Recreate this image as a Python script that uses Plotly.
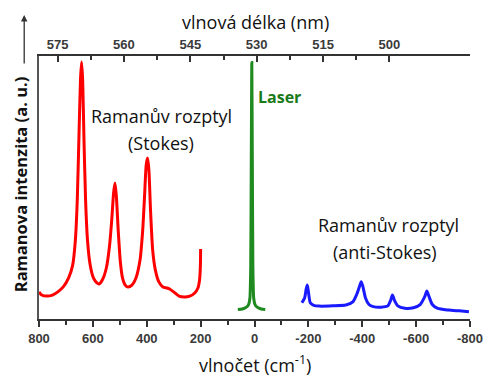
import plotly.graph_objects as go

# ---- data ----
stokes_wn = [800, 790, 770, 750, 730, 710, 690, 675, 665, 658, 652, 646, 642, 638, 633, 627, 620, 610, 598, 585,
             577, 565, 550, 538, 530, 523, 518, 513, 506, 498, 490, 480, 470, 455, 440, 425, 415, 408, 402, 397,
             392, 386, 378, 368, 355, 340, 325, 315, 300, 280, 260, 240, 222, 210, 204, 201, 200]
stokes_int = [10.3, 9.1, 8.7, 9.1, 10.3, 12.2, 15.6, 20.5, 30, 45, 68, 91, 97.7, 91, 68, 45, 30, 20.5, 15.6, 13.7,
              13.3, 14.8, 19.4, 28, 37.6, 48, 51.7, 47, 33.8, 21.7, 15.6, 12.9, 12.2, 12.9, 15.6, 22.4, 33.8, 47, 58.6, 61.2,
              56.7, 41.4, 26.2, 18.6, 14.1, 12.2, 11.8, 11.4, 10.3, 8.7, 8.4, 8.7, 9.9, 11.8, 14.8, 20, 26.6]

laser_wn = [62, 45, 30, 22, 17, 14, 12, 10, 8, 6, 3, -2, -10, -25, -40]
laser_int = [3.6, 3.8, 4.5, 5.5, 8, 20, 60, 97.5, 60, 20, 8, 5.5, 4.5, 3.8, 3.6]

anti_wn = [-176, -186, -192, -196, -200, -207, -220, -240, -290, -339, -365, -380, -390, -396, -402, -412, -425, -441,
           -470, -495, -505, -512, -520, -532, -558, -590, -615, -632, -640, -648, -660, -680, -720, -760, -796]
anti_int = [6.2, 8.0, 11.5, 12.9, 10.5, 6.2, 5.2, 4.9, 5.0, 5.3, 6.5, 9.5, 12.5, 14.2, 12.5, 8.0, 5.5, 4.7,
            4.5, 5.0, 7.0, 9.1, 7.0, 5.0, 4.1, 4.3, 5.5, 8.5, 10.6, 8.5, 5.5, 4.0, 3.4, 3.1, 2.8]

bottom_ticks = [800, 600, 400, 200, 0, -200, -400, -600, -800]
bottom_labels = ["800", "600", "400", "200", "0", "-200", "-400", "-600", "-800"]
top_ticks = [575, 560, 545, 530, 515, 500]
top_labels = ["575", "560", "545", "530", "515", "500"]

# ---- figure ----
W, H = 495, 376
L, R, T, B = 39, 19, 56, 57
pw, ph = W - L - R, H - T - B


def px(x):
    return (x - L) / pw


def py(y):
    return (H - B - y) / ph


fig = go.Figure()
fig.add_trace(go.Scatter(x=stokes_wn, y=stokes_int, mode="lines",
                         line=dict(color="#ff0000", width=3, shape="spline", smoothing=0.6), showlegend=False))
fig.add_trace(go.Scatter(x=laser_wn, y=laser_int, mode="lines",
                         line=dict(color="#1f8a1f", width=3, shape="spline", smoothing=0.5), showlegend=False))
fig.add_trace(go.Scatter(x=anti_wn, y=anti_int, mode="lines",
                         line=dict(color="#1a1aff", width=3, shape="spline", smoothing=0.6), showlegend=False))
# invisible trace to activate top axis
fig.add_trace(go.Scatter(x=[top_ticks[0]], y=[None], xaxis="x2", showlegend=False, hoverinfo="skip"))

axcol = "#333333"
tickfont = dict(family="Liberation Sans, Arial, sans-serif", size=13, color="#3a3a3a", weight="bold")

fig.update_layout(
    width=W, height=H,
    margin=dict(l=L, r=R, t=T, b=B, pad=0),
    paper_bgcolor="white", plot_bgcolor="white",
    xaxis=dict(range=[800, -800], tickvals=bottom_ticks, ticktext=bottom_labels,
               ticks="outside", ticklen=6, tickwidth=1.5, tickcolor=axcol,
               minor=dict(tickvals=[700, 500, 300, 100, -100, -300, -500, -700], ticks="outside",
                          ticklen=4, tickwidth=1.5, tickcolor=axcol),
               showline=True, linecolor=axcol, linewidth=2, showgrid=False, zeroline=False,
               tickfont=tickfont),
    xaxis2=dict(overlaying="x", side="top", anchor="y", range=[579.2, 481.8],
                tickvals=top_ticks, ticktext=top_labels,
                ticks="inside", ticklen=6, tickwidth=1.5, tickcolor=axcol,
                minor=dict(tickvals=[567.5, 552.5, 537.5, 522.5, 507.5], ticks="inside",
                           ticklen=4, tickwidth=1.5, tickcolor=axcol),
                showline=True, linecolor=axcol, linewidth=2, showgrid=False, zeroline=False,
                tickfont=tickfont),
    yaxis=dict(range=[0, 100], showticklabels=False, ticks="", showline=True, linecolor="#555555",
               linewidth=1.5, showgrid=False, zeroline=False),
)

txtfont = dict(family="Open Sans, sans-serif", size=18, color="#111111")
ann = [
    dict(text="Ramanův rozptyl", x=px(163), y=py(116), font=txtfont),
    dict(text="(Stokes)", x=px(163), y=py(143), font=txtfont),
    dict(text="Ramanův rozptyl", x=px(393), y=py(225), font=txtfont),
    dict(text="(anti-Stokes)", x=px(390), y=py(252), font=txtfont),
    dict(text="<b>Laser</b>", x=px(283), y=py(97), font=dict(family="Open Sans, sans-serif", size=16, color="#1a7a1a")),
    dict(text="vlnová délka (nm)", x=px(259), y=py(22), font=txtfont),
    dict(text="vlnočet (cm<sup>-1</sup>)", x=px(258), y=py(364), font=txtfont),
    dict(text="<b>Ramanova intenzita (a. u.)</b>", x=px(20), y=py(184), textangle=-90,
         font=dict(family="Open Sans, sans-serif", size=16.5, color="#111111")),
]
for a in ann:
    a.update(xref="paper", yref="paper", showarrow=False, xanchor="center", yanchor="middle")
ann.append(dict(x=px(24), y=py(15), ax=0, ay=50, xref="paper", yref="paper", axref="pixel", ayref="pixel",
                showarrow=True, arrowhead=2, arrowsize=1, arrowwidth=1.3, arrowcolor="#333333", text=""))
fig.update_layout(annotations=ann)

fig.write_html("out.html")
